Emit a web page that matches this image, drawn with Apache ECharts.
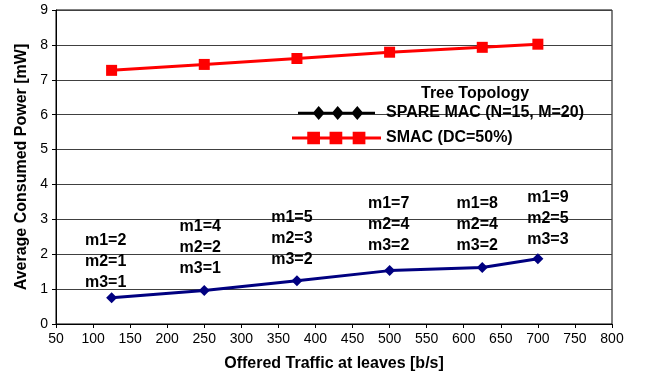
<!DOCTYPE html>
<html>
<head>
<meta charset="utf-8">
<script src="https://cdn.jsdelivr.net/npm/echarts@6/dist/echarts.min.js"></script>
<style>
  html, body { margin: 0; padding: 0; background: #fff; }
  #chart { width: 647px; height: 376px; }
</style>
</head>
<body>
<div id="chart"></div>
<script>
// offered traffic at leaves [b/s]
const traffic = [125, 250, 375, 500, 625, 700];
// average consumed power [mW]
const spareMac = [0.75, 0.96, 1.24, 1.53, 1.62, 1.87];
const smac = [7.27, 7.44, 7.61, 7.79, 7.93, 8.02];
// m1/m2/m3 annotations above the SPARE MAC points
const m1 = [2, 4, 5, 7, 8, 9];
const m2 = [1, 2, 3, 4, 4, 5];
const m3 = [1, 1, 2, 2, 2, 3];

// where each annotation block sits relative to its point (px)
const labelShift = [[-6, 1], [-4, -6], [-5, -5], [-1, -9], [-5, -6], [10, -3]];

const FONT = 'Liberation Sans, Arial, sans-serif';

// legend icons: line with three markers
const diamondIcon = 'path://M0 5.8H77V8.2H0Z' +
    'M14.7 7L20.7 0L26.7 7L20.7 14Z' +
    'M33.7 7L39.7 0L45.7 7L39.7 14Z' +
    'M53.3 7L59.3 0L65.3 7L59.3 14Z';
const squareIcon = 'path://M0 5.6H77V8.4H0Z' +
    'M13.2 1.5h11v11h-11Z' +
    'M32.5 1.5h11v11h-11Z' +
    'M52.5 1.5h11v11h-11Z';

const boldText = { fontFamily: FONT, fontSize: 16, fontWeight: 'bold', color: '#000' };

const chart = echarts.init(document.getElementById('chart'));

const option = {
    animation: false,
    textStyle: { fontFamily: FONT },
    title: {
        text: 'Tree Topology',
        left: 416,
        top: 81,
        textStyle: boldText
    },
    legend: {
        orient: 'vertical',
        left: 287,
        top: 100,
        itemWidth: 89,
        itemHeight: 14,
        itemGap: 9,
        textStyle: boldText,
        data: [
            { name: 'SPARE MAC (N=15, M=20)', icon: diamondIcon, itemStyle: { color: '#000', borderWidth: 0 } },
            { name: 'SMAC (DC=50%)', icon: squareIcon, itemStyle: { color: '#ff0000', borderWidth: 0 } }
        ]
    },
    grid: {
        left: 56,
        right: 35,
        top: 10,
        bottom: 52,
        show: true,
        borderColor: '#000',
        borderWidth: 1,
        containLabel: false,
        outerBoundsMode: 'none'
    },
    xAxis: {
        type: 'value',
        min: 50,
        max: 800,
        interval: 50,
        name: 'Offered Traffic at leaves [b/s]',
        nameLocation: 'middle',
        nameGap: 32,
        nameTextStyle: boldText,
        axisLine: { lineStyle: { color: '#000', width: 1 } },
        axisTick: { show: true, length: 4, lineStyle: { color: '#000' } },
        axisLabel: { fontFamily: FONT, fontSize: 14, color: '#000', margin: 8 },
        splitLine: { show: false }
    },
    yAxis: {
        type: 'value',
        min: 0,
        max: 9,
        interval: 1,
        name: 'Average Consumed Power [mW]',
        nameLocation: 'middle',
        nameGap: 23,
        nameTextStyle: boldText,
        axisLine: { show: true, lineStyle: { color: '#000', width: 1 } },
        axisTick: { show: true, length: 4, lineStyle: { color: '#000' } },
        axisLabel: { fontFamily: FONT, fontSize: 14, color: '#000', margin: 8 },
        splitLine: { show: true, lineStyle: { color: '#404040', width: 1 } }
    },
    series: [
        {
            name: 'SPARE MAC (N=15, M=20)',
            type: 'line',
            data: traffic.map((x, i) => ({
                value: [x, spareMac[i]],
                label: { offset: labelShift[i] }
            })),
            symbol: 'diamond',
            symbolSize: 11,
            color: '#000080',
            itemStyle: { color: '#000080', borderWidth: 0 },
            lineStyle: { color: '#000080', width: 3 },
            label: {
                show: true,
                position: 'top',
                distance: 0,
                fontFamily: FONT,
                fontSize: 16,
                fontWeight: 'bold',
                color: '#000',
                lineHeight: 21,
                formatter: p => 'm1=' + m1[p.dataIndex] + '\nm2=' + m2[p.dataIndex] + '\nm3=' + m3[p.dataIndex]
            },
            z: 3
        },
        {
            name: 'SMAC (DC=50%)',
            type: 'line',
            data: traffic.map((x, i) => [x, smac[i]]),
            symbol: 'rect',
            symbolSize: 11,
            color: '#ff0000',
            itemStyle: { color: '#ff0000', borderWidth: 0 },
            lineStyle: { color: '#ff0000', width: 3 },
            z: 3
        }
    ]
};

chart.setOption(option);
</script>
</body>
</html>
